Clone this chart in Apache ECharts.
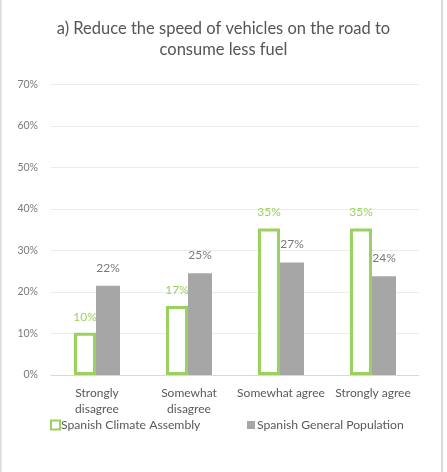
<!DOCTYPE html>
<html><head><meta charset="utf-8">
<script src="https://cdn.jsdelivr.net/npm/echarts@6/dist/echarts.min.js"></script>
<style>html,body{margin:0;padding:0;background:#fff}#c{width:447px;height:472px}</style>
</head><body><div id="c"></div>
<script>
const categories = ['Strongly\ndisagree', 'Somewhat\ndisagree', 'Somewhat agree', 'Strongly agree'];
const assembly = [10.2, 16.6, 35.3, 35.3];
const population = [21.5, 24.5, 27.1, 23.8];
const yTicks = [0, 10, 20, 30, 40, 50, 60, 70];
const seriesNames = ['Spanish Climate Assembly', 'Spanish General Population'];
const titleText = 'a) Reduce the speed of vehicles on the road to\nconsume less fuel';

const green = '#9bd15f';
const grey = '#a6a6a6';
const font = 'Lato';
const chart = echarts.init(document.getElementById('c'));
chart.setOption({
  animation: false,
  textStyle: { fontFamily: font },
  title: {
    text: titleText, left: 'center', top: 13,
    textStyle: { fontFamily: font, fontSize: 16.5, fontWeight: 'normal', color: '#555555', lineHeight: 21 }
  },
  graphic: [
    { type: 'rect', shape: { x: 0, y: 0, width: 1.5, height: 472 }, style: { fill: '#d9d9d9' } },
    { type: 'rect', shape: { x: 441, y: 0, width: 2, height: 472 }, style: { fill: '#d9d9d9' } }
  ],
  legend: [
    { data: [seriesNames[0]], left: 45, top: 414, itemWidth: 9, itemHeight: 9, itemGap: 0,
      textStyle: { fontFamily: font, fontSize: 12.2, color: '#595959', padding: [0, 0, 0, -4] }, icon: 'rect' },
    { data: [seriesNames[1]], left: 242, top: 414, itemWidth: 8, itemHeight: 8, itemGap: 0,
      textStyle: { fontFamily: font, fontSize: 12.2, color: '#595959', padding: [0, 0, 0, -3] }, icon: 'rect' }
  ],
  grid: { left: 51, right: 28, top: 84.5, bottom: 97 },
  xAxis: {
    type: 'category', data: categories,
    axisLine: { lineStyle: { color: '#d9d9d9' } },
    axisTick: { show: false },
    axisLabel: { fontFamily: font, fontSize: 12, color: '#595959', lineHeight: 16, margin: 10, interval: 0 }
  },
  yAxis: {
    type: 'value', min: 0, max: 70, interval: 10,
    axisLabel: { fontFamily: font, fontSize: 10.5, color: '#7a7a7a', margin: 13,
      formatter: v => yTicks.includes(v) ? v + '%' : '' },
    splitLine: { lineStyle: { color: '#ebebeb' } },
    axisLine: { show: false }, axisTick: { show: false }
  },
  series: [
    { name: seriesNames[0], type: 'bar', data: assembly, barWidth: 22, barGap: '0%',
      itemStyle: { color: '#ffffff', borderColor: green, borderWidth: 3 },
      label: { show: true, position: 'top', distance: 10, color: green, fontFamily: font, fontSize: 12,
        formatter: p => Math.round(p.value) + '%' } },
    { name: seriesNames[1], type: 'bar', data: population, barWidth: 24,
      itemStyle: { color: grey },
      label: { show: true, position: 'top', distance: 12, color: '#7a7a7a', fontFamily: font, fontSize: 12,
        formatter: p => Math.round(p.value) + '%' } }
  ]
});
</script></body></html>
